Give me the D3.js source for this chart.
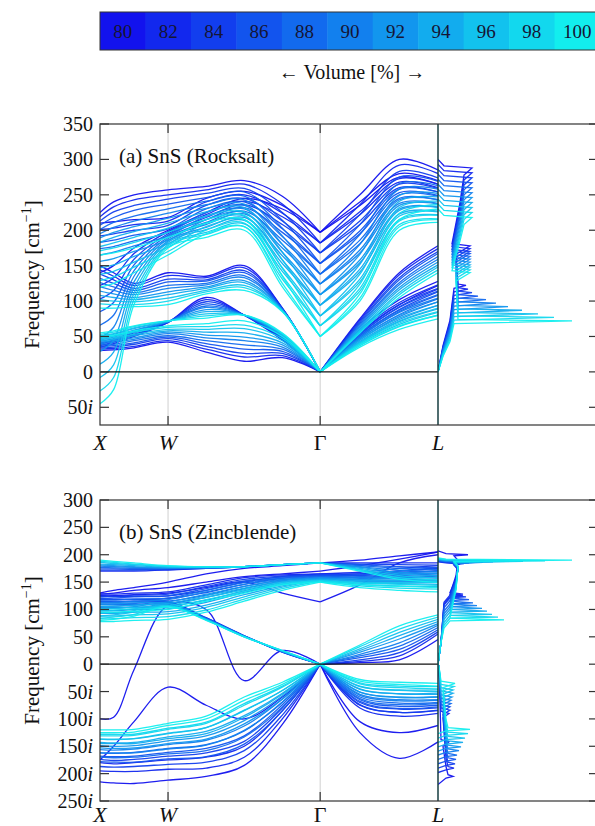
<!DOCTYPE html>
<html><head><meta charset="utf-8">
<script src="https://cdn.jsdelivr.net/npm/d3@7"></script>
<style>
body{margin:0;background:#fff}
svg{display:block}
</style>
</head><body>
<svg id="c" width="595" height="826"></svg>
<script>
const volumes = [80,82,84,86,88,90,92,94,96,98,100];
const kPath = [0,0.1,0.25,0.5,0.78,1.06,1.34,1.618,1.91,2.2,2.484];
const kLabels = ["X","W","Γ","L"];
const kLabelPos = [0,0.5,1.618,2.484];
const rsTicks = [-50,0,50,100,150,200,250,300,350];
const zbTicks = [-250,-200,-150,-100,-50,0,50,100,150,200,250,300];

// Rocksalt bands: one row per volume (80..100), one value per k-point
const rsBand1 = [
[30,31,34,42,28,15,20,0,55,95,122],[32,33,36,44,32,21,23,0,53,92,117],[34,35,39,47,36,26,26,0,51,88,113],
[36,37,41,49,40,32,29,0,49,85,108],[38,39,44,51,44,38,32,0,47,81,103],[40,42,46,54,48,44,35,0,45,78,99],
[42,44,48,56,52,49,38,0,43,74,94],[44,46,51,58,56,55,41,0,41,71,89],[46,48,53,60,60,61,44,0,39,67,84],
[48,50,56,63,64,66,47,0,37,64,80],[50,52,58,65,68,72,50,0,35,60,75]];
const rsBand2 = [
[35,40,50,70,105,80,45,0,60,102,128],[37,42,52,70,102,80,46,0,58,98,123],[39,44,53,70,99,80,47,0,56,95,118],
[41,45,55,71,96,80,48,0,53,91,114],[43,47,56,71,93,80,49,0,51,87,109],[45,49,58,71,91,80,50,0,49,84,104],
[47,51,59,71,88,80,51,0,47,80,99],[49,53,61,71,85,80,52,0,45,76,94],[51,54,62,72,82,80,53,0,42,72,90],
[53,56,64,72,79,80,54,0,40,69,85],[55,58,65,72,76,80,55,0,38,65,80]];
const rsBand3 = [
[150,140,125,140,135,150,90,0,75,140,178],[144,135,122,136,133,147,90,0,73,137,174],[138,130,118,131,130,143,89,0,71,133,170],
[132,125,115,127,128,140,89,0,69,130,167],[126,120,112,122,125,136,88,0,67,126,163],[120,115,109,118,123,133,88,0,65,123,159],
[114,110,105,113,120,129,87,0,63,119,155],[108,105,102,109,118,126,87,0,61,116,151],[102,100,99,104,115,122,86,0,59,112,148],
[96,95,95,100,113,119,86,0,57,109,144],[90,90,92,95,110,115,85,0,55,105,140]];
const rsBand4 = [
[140,150,175,200,225,245,230,197,235,275,265],[122,133,167,198,222,241,219,182,222,268,260],[103,115,159,195,218,236,208,168,208,260,254],
[85,98,151,193,215,232,197,153,195,253,249],[66,80,143,190,211,227,186,138,181,245,243],[48,63,135,188,208,223,175,124,168,238,238],
[29,45,127,185,204,218,164,109,154,230,233],[11,28,119,183,201,214,153,94,141,223,227],[-8,10,111,180,197,209,142,79,127,215,222],
[-27,-8,103,178,194,205,131,65,114,208,216],[-45,-25,95,175,190,200,120,50,100,200,211]];
const rsBand5 = [
[210,212,215,218,245,255,235,197,240,280,270],[201,203,208,213,240,250,224,182,226,273,265],[192,195,200,207,235,245,213,168,213,265,259],
[183,186,193,202,230,240,202,153,199,258,254],[174,177,185,197,225,235,191,138,186,250,248],[165,169,178,192,220,230,180,124,172,243,243],
[156,160,170,186,215,225,169,109,158,235,237],[147,151,163,181,210,220,158,94,145,228,232],[138,142,155,176,205,215,147,79,131,220,226],
[129,134,148,170,200,210,136,65,118,213,221],[120,125,140,165,195,205,125,50,104,205,215]];
const rsBand6 = [
[225,240,250,257,262,270,248,197,250,300,285],[219,233,243,250,257,265,237,182,236,292,280],[213,226,235,244,252,259,225,168,222,283,274],
[207,218,228,237,246,254,214,153,208,275,269],[201,211,220,230,241,248,203,138,194,266,263],[195,204,213,224,236,243,192,124,180,258,258],
[189,197,205,217,231,237,180,109,166,249,252],[183,190,198,210,226,232,169,94,152,241,247],[177,182,190,203,220,226,158,79,138,232,241],
[171,175,183,197,215,221,146,65,124,224,236],[165,168,175,190,210,215,135,50,110,215,230]];

// Zincblende bands (negative = imaginary)
const zbBand1 = [
[-215,-217,-218,-212,-205,-185,-110,0,-125,-172,-142],[-195,-196,-196,-192,-190,-170,-100,0,-80,-95,-90],
[-187,-188,-187,-183,-179,-158,-93,0,-74,-88,-84],[-178,-179,-179,-173,-169,-146,-85,0,-68,-81,-78],
[-170,-171,-170,-164,-158,-133,-78,0,-63,-74,-72],[-162,-162,-162,-155,-148,-121,-70,0,-57,-67,-66],
[-153,-154,-153,-145,-137,-109,-63,0,-51,-61,-60],[-145,-145,-145,-136,-127,-97,-55,0,-45,-54,-53],
[-137,-137,-136,-127,-116,-84,-48,0,-40,-47,-47],[-128,-128,-128,-117,-106,-72,-40,0,-34,-40,-41],
[-120,-120,-119,-108,-95,-60,-33,0,-28,-33,-35]];
const zbBand2 = [
[-175,-150,-105,-42,-75,-100,-60,0,-105,-125,-112],[-180,-182,-180,-175,-170,-150,-85,0,-75,-88,-85],
[-174,-176,-174,-168,-162,-141,-80,0,-70,-82,-80],[-168,-169,-168,-161,-154,-131,-74,0,-65,-77,-75],
[-162,-163,-161,-154,-147,-122,-69,0,-60,-71,-70],[-156,-157,-155,-147,-139,-113,-64,0,-55,-65,-65],
[-149,-150,-149,-140,-131,-103,-58,0,-51,-60,-60],[-143,-144,-143,-133,-123,-94,-53,0,-46,-54,-55],
[-137,-138,-136,-126,-116,-85,-48,0,-41,-48,-50],[-131,-131,-130,-119,-108,-75,-42,0,-36,-43,-45],
[-125,-125,-124,-112,-100,-66,-37,0,-31,-37,-40]];
const zbBand3 = [
[-100,-97,-10,108,100,-30,25,0,3,8,45],[118,118,118,115,85,52,22,0,5,15,55],[114,114,115,114,84,52,22,0,8,21,59],
[110,110,111,113,84,52,23,0,12,27,63],[105,106,108,112,83,51,23,0,15,33,67],[101,102,105,111,83,51,23,0,18,39,71],
[97,98,101,109,82,51,24,0,22,46,74],[93,94,98,108,82,51,24,0,25,52,78],[88,90,95,107,81,50,24,0,28,58,82],
[84,86,91,106,81,50,25,0,32,64,86],[80,82,88,105,80,50,25,0,35,70,90]];
const zbBand4 = [
[125,125,127,130,140,150,130,114,145,185,200],[125,124,124,125,135,150,160,165,165,170,175],[120,119,119,120,131,146,157,163,162,166,170],
[115,114,114,115,126,142,154,162,159,162,165],[109,109,109,111,122,138,152,160,157,158,161],[104,104,104,106,117,134,149,158,154,154,156],
[99,98,100,101,113,131,146,157,151,151,151],[94,93,95,96,108,127,143,155,148,147,146],[88,88,90,92,104,123,141,153,146,143,142],
[83,83,85,87,99,119,138,152,143,139,137],[78,78,80,82,95,115,135,150,140,135,132]];
const zbBand5 = [
[128,130,135,140,150,160,165,170,180,192,205],[128,128,130,132,145,158,163,165,168,175,180],[124,124,126,128,142,155,161,163,165,171,176],
[121,121,123,125,138,152,159,162,163,168,171],[117,117,119,121,135,149,157,160,160,164,167],[113,113,115,118,132,146,155,158,158,160,162],
[110,110,112,114,128,142,153,157,155,157,158],[106,106,108,111,125,139,151,155,153,153,153],[102,102,104,107,122,136,149,153,150,149,149],
[99,99,101,104,118,133,147,152,148,146,144],[95,95,97,100,115,130,145,150,145,142,140]];
const zbBand6 = [
[130,135,140,150,165,175,180,185,190,198,205],[170,170,170,172,175,178,182,185,185,185,185],[172,172,172,173,175,178,182,185,183,182,181],
[174,174,173,174,176,178,182,185,182,178,177],[177,176,175,175,176,178,182,185,180,175,173],[179,178,177,176,176,178,182,185,178,172,169],
[181,180,178,176,177,178,182,185,177,168,166],[183,182,180,177,177,178,182,185,175,165,162],[186,184,182,178,177,178,182,185,173,162,158],
[188,186,183,179,178,178,182,185,172,158,154],[190,188,185,180,178,178,182,185,170,155,150]];

// Phonon DOS, per volume: [frequency, DOS (arb.)]
const rsDos = [
[[0,0],[37,5],[73,12],[118,16],[122,28],[124,20],[166,18],[178,32],[181,14],[239,22],[278,26],[288,34],[291,6],[300,0]],
[[0,0],[35,5],[70,12],[113,16],[117,30],[119,20],[162,18],[174,32],[177,14],[234,22],[271,26],[281,34],[284,6],[293,0]],
[[0,0],[34,5],[67,12],[108,16],[112,34],[114,20],[158,18],[170,32],[173,14],[228,22],[264,26],[274,34],[277,6],[286,0]],
[[0,0],[32,5],[64,12],[103,16],[107,40],[109,20],[155,18],[167,32],[170,14],[223,22],[257,26],[267,34],[270,6],[279,0]],
[[0,0],[31,5],[61,12],[98,16],[102,48],[104,20],[151,18],[163,32],[166,14],[218,22],[250,26],[260,34],[263,6],[272,0]],
[[0,0],[29,5],[58,12],[93,16],[97,58],[99,20],[147,18],[159,32],[162,14],[212,22],[243,26],[253,34],[256,6],[265,0]],
[[0,0],[28,5],[55,12],[88,16],[92,70],[94,20],[143,18],[155,32],[158,14],[207,22],[236,26],[246,34],[249,6],[258,0]],
[[0,0],[26,5],[52,12],[83,16],[87,84],[89,20],[139,18],[151,32],[154,14],[201,22],[229,26],[239,34],[242,6],[251,0]],
[[0,0],[25,5],[49,12],[78,16],[82,100],[84,20],[136,18],[148,32],[151,14],[196,22],[222,26],[232,34],[235,6],[244,0]],
[[0,0],[23,5],[46,12],[73,16],[77,116],[79,20],[132,18],[144,32],[147,14],[191,22],[215,26],[225,34],[228,6],[237,0]],
[[0,0],[22,5],[43,12],[68,16],[72,134],[74,20],[128,18],[140,32],[143,14],[185,22],[208,26],[218,34],[221,6],[230,0]]];
const zbDos = [
[[-220,0],[-208,8],[-205,15],[-202,10],[-187,8],[-150,5],[-142,11],[-138,3],[-5,1],[0,0],[40,3],[110,6],[123,12],[125,25],[128,12],[162,18],[190,20],[198,16],[200,30],[202,8],[207,0]],
[[-198,0],[-193,8],[-190,16],[-187,10],[-172,8],[-98,5],[-90,11],[-86,3],[-5,1],[0,0],[40,3],[113,6],[126,12],[128,25],[131,12],[156,18],[173,20],[181,16],[183,22],[185,8],[187,0]],
[[-190,0],[-185,8],[-182,17],[-179,10],[-164,8],[-92,5],[-84,12],[-80,3],[-5,1],[0,0],[40,3],[108,6],[121,12],[123,28],[126,12],[154,18],[174,20],[182,16],[184,26],[186,8],[188,0]],
[[-182,0],[-177,8],[-174,18],[-171,10],[-156,8],[-86,5],[-78,12],[-74,3],[-5,1],[0,0],[40,3],[103,6],[116,12],[118,31],[121,12],[152,18],[175,20],[183,16],[185,31],[187,8],[189,0]],
[[-174,0],[-169,8],[-166,19],[-163,10],[-148,8],[-80,5],[-72,13],[-68,3],[-5,1],[0,0],[40,3],[97,6],[110,12],[112,35],[115,12],[149,18],[176,20],[184,16],[186,37],[188,8],[190,0]],
[[-166,0],[-161,8],[-158,21],[-155,10],[-140,8],[-74,5],[-66,13],[-62,3],[-5,1],[0,0],[40,3],[92,6],[105,12],[107,39],[110,12],[147,18],[176,20],[184,16],[186,45],[188,8],[190,0]],
[[-159,0],[-154,8],[-151,23],[-148,10],[-133,8],[-68,5],[-60,14],[-56,3],[-5,1],[0,0],[40,3],[87,6],[100,12],[102,44],[105,12],[145,18],[177,20],[185,16],[187,55],[189,8],[191,0]],
[[-151,0],[-146,8],[-143,25],[-140,10],[-125,8],[-61,5],[-53,15],[-49,3],[-5,1],[0,0],[40,3],[82,6],[95,12],[97,49],[100,12],[143,18],[178,20],[186,16],[188,68],[190,8],[192,0]],
[[-143,0],[-138,8],[-135,27],[-132,10],[-117,8],[-55,5],[-47,15],[-43,3],[-5,1],[0,0],[40,3],[76,6],[89,12],[91,54],[94,12],[140,18],[178,20],[186,16],[188,85],[190,8],[192,0]],
[[-135,0],[-130,8],[-127,30],[-124,10],[-109,8],[-49,5],[-41,16],[-37,3],[-5,1],[0,0],[40,3],[71,6],[84,12],[86,60],[89,12],[138,18],[179,20],[187,16],[189,107],[191,8],[193,0]],
[[-127,0],[-122,8],[-119,32],[-116,10],[-101,8],[-43,5],[-35,17],[-31,3],[-5,1],[0,0],[40,3],[66,6],[79,12],[81,66],[84,12],[136,18],[180,20],[188,16],[190,134],[192,8],[194,0]]];

const svg = d3.select("#c");
const FONT = '"Liberation Serif", "Tinos", "Times New Roman", serif';
const FL = 100, FR = 598, XL = 438;
const colorOf = d3.scaleLinear().domain([80,100]).range(["#1212ee","#12eeee"]).interpolate(d3.interpolateRgb);

// ---- colour bar ----
const cbX = d3.scaleBand().domain(volumes).range([100,600]).padding(0);
const cb = svg.append("g");
cb.selectAll("rect.cell").data(volumes).join("rect").attr("class","cell")
  .attr("x",d=>cbX(d)).attr("y",12).attr("width",cbX.bandwidth()+0.5).attr("height",38)
  .attr("fill",d=>colorOf(d));
cb.append("rect").attr("x",100).attr("y",12).attr("width",500).attr("height",38)
  .attr("fill","none").attr("stroke","#333").attr("stroke-width",1);
cb.selectAll("text").data(volumes).join("text")
  .attr("x",d=>cbX(d)+cbX.bandwidth()/2).attr("y",37.5).attr("text-anchor","middle")
  .attr("font-size",19).attr("fill","#151535").text(d=>d);
svg.append("text").attr("x",352).attr("y",79).attr("text-anchor","middle").attr("font-size",20).attr("fill","#111")
  .text("←   Volume [%]   →");

const xK = d3.scaleLinear().domain([0,2.484]).range([FL,XL]);
const xD = d3.scaleLinear().domain([0,160]).range([XL,FR]);

function fmtTick(g, v){
  if (v < 0){ g.text(String(-v)); g.append("tspan").attr("font-style","italic").text("i"); }
  else g.text(String(v));
}

function panel(id, y0, y1, domain, ticks, bands, dos, title){
  const y = d3.scaleLinear().domain(domain).range([y1,y0]);
  const g = svg.append("g");
  const defs = svg.append("defs");
  defs.append("clipPath").attr("id",id+"b").append("rect").attr("x",FL).attr("y",y0).attr("width",XL-FL).attr("height",y1-y0);
  defs.append("clipPath").attr("id",id+"d").append("rect").attr("x",XL).attr("y",y0).attr("width",FR-XL).attr("height",y1-y0);

  g.selectAll("line.grid").data([kLabelPos[1],kLabelPos[2]]).join("line").attr("class","grid")
    .attr("x1",d=>xK(d)).attr("x2",d=>xK(d)).attr("y1",y0).attr("y2",y1)
    .attr("stroke","#cfcfcf").attr("stroke-width",1);

  const line = d3.line().x(d=>xK(d[0])).y(d=>y(d[1])).curve(d3.curveCatmullRom.alpha(0.5));
  const bg = g.append("g").attr("clip-path",`url(#${id}b)`);
  volumes.forEach((v,vi)=>{
    bands.forEach(b=>{
      const pts = kPath.map((k,i)=>[k,b[vi][i]]);
      [pts.slice(0,8), pts.slice(7)].forEach(seg=>{
        bg.append("path").attr("d",line(seg)).attr("fill","none")
          .attr("stroke",colorOf(v)).attr("stroke-width",1.3).attr("stroke-opacity",0.95);
      });
    });
  });
  g.append("line").attr("x1",FL).attr("x2",XL).attr("y1",y(0)).attr("y2",y(0)).attr("stroke","#111").attr("stroke-width",1.2);

  const dl = d3.line().x(d=>xD(d[1])).y(d=>y(d[0]));
  const dg = g.append("g").attr("clip-path",`url(#${id}d)`);
  volumes.forEach((v,vi)=>{
    dg.append("path").attr("d",dl(dos[vi])).attr("fill","none")
      .attr("stroke",colorOf(v)).attr("stroke-width",1.3).attr("stroke-opacity",0.95);
  });

  g.append("line").attr("x1",XL).attr("x2",XL).attr("y1",y0).attr("y2",y1).attr("stroke","#163c40").attr("stroke-width",1.5);
  g.append("rect").attr("x",FL).attr("y",y0).attr("width",FR-FL).attr("height",y1-y0)
    .attr("fill","none").attr("stroke","#333").attr("stroke-width",1.2);

  ticks.forEach(t=>{
    const yy = y(t);
    g.append("line").attr("x1",FL).attr("x2",FL+9).attr("y1",yy).attr("y2",yy).attr("stroke","#333").attr("stroke-width",1.2);
    g.append("line").attr("x1",FR-9).attr("x2",FR).attr("y1",yy).attr("y2",yy).attr("stroke","#333").attr("stroke-width",1.2);
    const tx = g.append("text").attr("x",FL-7).attr("y",yy).attr("dy","0.35em").attr("text-anchor","end").attr("font-size",20).attr("fill","#111");
    fmtTick(tx,t);
  });
  [kLabelPos[1],kLabelPos[2]].forEach(k=>{
    g.append("line").attr("x1",xK(k)).attr("x2",xK(k)).attr("y1",y0).attr("y2",y0+9).attr("stroke","#333").attr("stroke-width",1.2);
    g.append("line").attr("x1",xK(k)).attr("x2",xK(k)).attr("y1",y1-9).attr("y2",y1).attr("stroke","#333").attr("stroke-width",1.2);
  });
  kLabels.forEach((lab,i)=>{
    g.append("text").attr("x",xK(kLabelPos[i])).attr("y",Math.min(y1+25,822)).attr("text-anchor","middle")
      .attr("font-size",22).attr("fill","#111").attr("font-style",lab==="Γ"?"normal":"italic").text(lab);
  });
  const yt = g.append("text").attr("transform",`translate(39,${(y0+y1)/2}) rotate(-90)`)
    .attr("text-anchor","middle").attr("font-size",21).attr("fill","#111");
  yt.append("tspan").text("Frequency [cm");
  yt.append("tspan").attr("font-size",14).attr("dy",-8).text("−1");
  yt.append("tspan").attr("dy",8).text("]");
  g.append("text").attr("x",119).attr("y",y0+39).attr("font-size",21).attr("fill","#111").text(title);
}

panel("rs",124,425,[-75,350],rsTicks,[rsBand1,rsBand2,rsBand3,rsBand4,rsBand5,rsBand6],rsDos,"(a) SnS (Rocksalt)");
panel("zb",500,801,[-250,300],zbTicks,[zbBand1,zbBand2,zbBand3,zbBand4,zbBand5,zbBand6],zbDos,"(b) SnS (Zincblende)");
svg.selectAll("text").style("font-family", FONT);
</script>
</body></html>
